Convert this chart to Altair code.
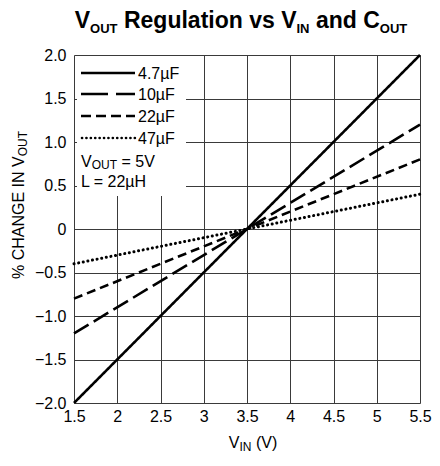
import altair as alt
import pandas as pd

# ---- data ----
vin = [1.5, 3.5, 5.5]
series_names = ["4.7µF", "10µF", "22µF", "47µF"]
s_4p7 = [-2.0, 0.0, 2.0]
s_10 = [-1.2, 0.0, 1.2]
s_22 = [-0.8, 0.0, 0.8]
s_47 = [-0.4, 0.0, 0.4]
x_ticks = [1.5, 2, 2.5, 3, 3.5, 4, 4.5, 5, 5.5]
y_ticks = [-2.0, -1.5, -1.0, -0.5, 0, 0.5, 1.0, 1.5, 2.0]

FONT = "Liberation Sans, Arial, sans-serif"
W, H = 346, 348

rows = []
for name, vals in zip(series_names, [s_4p7, s_10, s_22, s_47]):
    for x, y in zip(vin, vals):
        rows.append({"vin": x, "pct": y, "series": name})
df = pd.DataFrame(rows)

line_dash = [[1, 0], [17, 6], [9, 5]]
legend_dash = [[1, 0], [27, 8], [10, 5]]

# Arial / Liberation Sans advance widths (per 1000 em)
REG = {' ': 278, '%': 889, '(': 333, ')': 333, '.': 278, '=': 584, 'A': 667, 'C': 722,
       'E': 667, 'G': 778, 'H': 722, 'I': 278, 'L': 556, 'N': 722, 'O': 778, 'T': 611,
       'U': 722, 'V': 667, 'F': 611, 'µ': 576}
for d in "0123456789":
    REG[d] = 556
BOLD = {' ': 278, 'R': 722, 'e': 556, 'g': 611, 'u': 611, 'l': 278, 'a': 556, 't': 333,
        'i': 278, 'o': 611, 'n': 611, 'v': 556, 's': 556, 'V': 667, 'C': 722, 'O': 778,
        'U': 722, 'T': 611, 'I': 278, 'N': 722, 'd': 611}


def width(s, size, bold=False):
    tbl = BOLD if bold else REG
    return sum(tbl.get(c, 556) for c in s) * size / 1000.0


def txt(s, x, y, size, align="left", bold=False, angle=None, baseline="alphabetic"):
    kw = dict(align=align, baseline=baseline, font=FONT, fontSize=size, color="black",
              fontWeight="bold" if bold else "normal")
    if angle is not None:
        kw["angle"] = angle
    return alt.Chart(pd.DataFrame({"t": [s]})).mark_text(**kw).encode(
        x=alt.value(x), y=alt.value(y), text="t:N")


def run(segments, center=None, start=None, base=0.0, cross=0.0, vertical=False, bold=False):
    """segments: (text, size, offset, space_before_size)"""
    total = 0.0
    for s, size, off, sp in segments:
        total += width(" ", sp, bold) if sp else 0.0
        total += width(s, size, bold)
    pos = start if start is not None else (center - total / 2 if not vertical else center + total / 2)
    out = []
    for s, size, off, sp in segments:
        adv = width(" ", sp, bold) if sp else 0.0
        if vertical:
            pos -= adv
            out.append(txt(s, cross + off, pos, size, align="left", bold=bold, angle=270))
            pos -= width(s, size, bold)
        else:
            pos += adv
            out.append(txt(s, pos, base + off, size, align="left", bold=bold))
            pos += width(s, size, bold)
    return out


xenc = alt.X("vin:Q", scale=alt.Scale(domain=[1.5, 5.5], nice=False, zero=False),
             axis=alt.Axis(values=x_ticks, labelExpr="toString(datum.value)", title="",
                           grid=True, ticks=False, domain=False, labelPadding=5,
                           labelFontSize=16, labelFont=FONT, labelColor="black",
                           gridColor="#3a3a3a", gridWidth=1, labelFlush=False))
yenc = alt.Y("pct:Q", scale=alt.Scale(domain=[-2, 2], nice=False),
             axis=alt.Axis(values=y_ticks,
                           labelExpr="datum.value == 0 ? '0' : replace(format(datum.value, '.1f'), '-', '−')",
                           title="", grid=True, ticks=False, domain=False, labelPadding=8,
                           labelFontSize=16, labelFont=FONT, labelColor="black",
                           gridColor="#3a3a3a", gridWidth=1, labelFlush=False))

base = alt.Chart(df)
solid_dash = base.transform_filter(alt.datum.series != "47µF").mark_line(
    color="black", strokeWidth=2.6, strokeCap="butt").encode(
    x=xenc, y=yenc, detail="series:N",
    strokeDash=alt.StrokeDash("series:N", scale=alt.Scale(domain=series_names[:3], range=line_dash), legend=None))
dotted = base.transform_filter(alt.datum.series == "47µF").mark_line(
    color="black", strokeWidth=3, strokeCap="round", strokeDash=[0.1, 4.6]).encode(x="vin:Q", y="pct:Q")

layers = [solid_dash, dotted]

# legend box (white, hides grid)
box = alt.Chart(pd.DataFrame({"a": [0]})).mark_rect(color="white").encode(
    x=alt.value(3), x2=alt.value(112), y=alt.value(1), y2=alt.value(141))
layers.append(box)

leg_y = [18, 39, 61, 83]
for i, name in enumerate(series_names):
    src = alt.Chart(pd.DataFrame({"series": [name]}))
    if i < 3:
        r = src.mark_rule(color="black", strokeWidth=2.6, strokeDash=legend_dash[i]).encode(
            x=alt.value(7), x2=alt.value(61), y=alt.value(leg_y[i]))
    else:
        r = src.mark_rule(color="black", strokeWidth=2.6, strokeCap="round", strokeDash=[0.1, 4.3]).encode(
            x=alt.value(8), x2=alt.value(61), y=alt.value(leg_y[i]))
    t = src.mark_text(align="left", baseline="alphabetic", font=FONT, fontSize=16, color="black").encode(
        x=alt.value(64), y=alt.value(leg_y[i] + 6), text="series:N")
    layers += [r, t]

# legend notes
layers += run([("V", 16, 0, 0), ("OUT", 12, 2, 0), ("= 5V", 16, 0, 16)], start=7, base=112)
layers += run([("L = 22µH", 16, 0, 0)], start=7, base=132)

# title
layers += run([("V", 23, 0, 0), ("OUT", 13, 5, 0), ("Regulation vs V", 23, 0, 23),
               ("IN", 13, 5, 0), ("and C", 23, 0, 23), ("OUT", 13, 5, 0)],
              center=167, base=-27, bold=True)

# x axis title
layers += run([("V", 16, 0, 0), ("IN", 12, 3, 0), ("(V)", 16, 0, 16)], center=179, base=393)

# y axis title (rotated)
layers += run([("% CHANGE IN V", 16, 0, 0), ("OUT", 12, 3, 0)], center=150, cross=-50, vertical=True)

chart = alt.layer(*layers).properties(
    width=W, height=H,
    autosize=alt.AutoSizeParams(type="none"),
    padding={"left": 66, "top": 47, "right": 12, "bottom": 50},
).configure_view(stroke="black", strokeWidth=1.5).configure(background="white")

chart.save("out.html", embed_options={"renderer": "svg", "actions": False})
